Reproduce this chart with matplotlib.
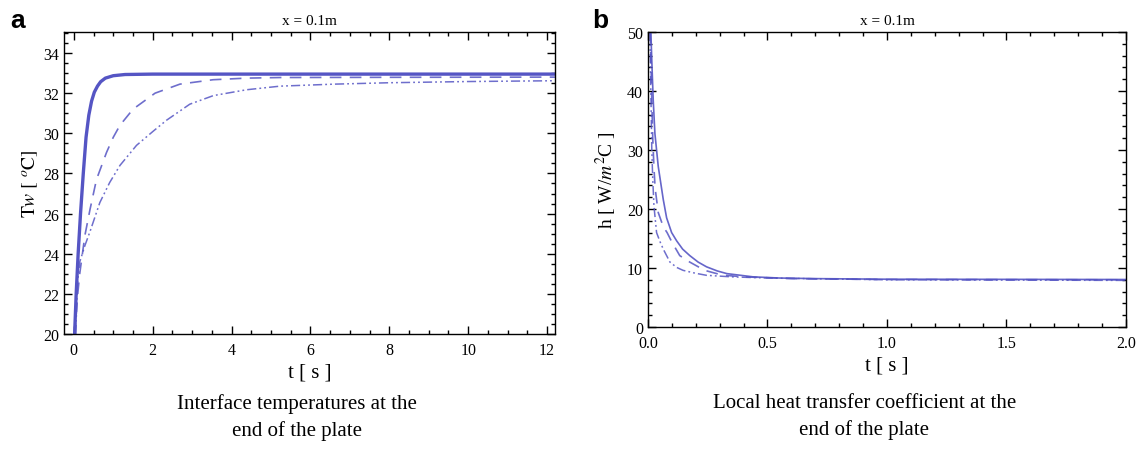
import matplotlib
matplotlib.use("Agg")
import matplotlib.pyplot as plt
from matplotlib.ticker import MultipleLocator, FormatStrFormatter

plt.rcParams["font.family"] = ["Liberation Serif", "DejaVu Serif"]
plt.rcParams["mathtext.fontset"] = "stix"

# panel a: interface temperature Tw [C] vs t [s]
ta_solid = [0.02, 0.06, 0.11, 0.17, 0.24, 0.31, 0.38, 0.45, 0.52, 0.6, 0.68,
            0.8, 1.0, 1.3, 2.0, 4.0, 8.0, 12.2]
tw_solid = [20.0, 22.0, 24.0, 26.0, 28.0, 29.8, 30.9, 31.6, 32.05, 32.35, 32.57,
            32.75, 32.87, 32.93, 32.95, 32.95, 32.95, 32.95]

ta_dash = [0.03, 0.08, 0.15, 0.28, 0.41, 0.575, 0.83, 1.0, 1.17, 1.5,
           2.06, 2.69, 3.53, 4.38, 5.23, 8.0, 12.2]
tw_dash = [20.0, 21.6, 23.0, 24.9, 26.2, 27.7, 29.05, 29.8, 30.4, 31.2,
           32.0, 32.45, 32.67, 32.75, 32.78, 32.79, 32.8]

ta_dot = [0.05, 0.09, 0.152, 0.28, 0.41, 0.66, 0.91, 1.17, 1.59, 2.01, 2.35,
          2.94, 3.54, 4.38, 5.23, 6.6, 8.0, 10.0, 12.2]
tw_dot = [20.0, 22.5, 23.6, 24.4, 25.1, 26.55, 27.55, 28.4, 29.4, 30.1, 30.65,
          31.45, 31.88, 32.17, 32.35, 32.45, 32.52, 32.58, 32.62]

# panel b: local heat transfer coefficient h vs t [s]
tb_solid = [0.012, 0.017, 0.022, 0.029, 0.043, 0.064, 0.078, 0.099, 0.12,
            0.145, 0.175, 0.21, 0.245, 0.29, 0.33, 0.44, 0.55, 0.7, 1.0, 2.0]
h_solid = [50.0, 44.0, 38.4, 32.8, 27.2, 21.6, 18.5, 16.0, 14.6,
           13.2, 12.1, 11.0, 10.2, 9.5, 9.05, 8.5, 8.3, 8.2, 8.1, 8.05]

tb_dash = [0.01, 0.015, 0.02, 0.025, 0.03, 0.043, 0.064, 0.08, 0.1, 0.133,
           0.175, 0.2375, 0.31, 0.4, 0.6, 1.0, 2.0]
h_dash = [50.0, 40.0, 32.0, 27.0, 23.5, 19.4, 17.0, 16.0, 14.4, 12.1,
          11.0, 9.6, 8.8, 8.5, 8.2, 8.05, 8.0]

tb_dot = [0.008, 0.012, 0.016, 0.02, 0.025, 0.036, 0.05, 0.064, 0.092, 0.12,
          0.147, 0.2, 0.245, 0.35, 0.5, 1.0, 2.0]
h_dot = [50.0, 40.0, 30.0, 25.0, 20.5, 16.0, 14.5, 13.2, 11.0, 10.1,
         9.6, 9.1, 8.76, 8.5, 8.3, 8.0, 7.9]

col = "#5555c4"
dashdotdot = (0, (6, 2, 1.2, 2, 1.2, 2))

fig = plt.figure(figsize=(11.36, 4.56), dpi=100)
ax1 = fig.add_axes([0.0563, 0.2654, 0.4322, 0.6623])
ax2 = fig.add_axes([0.5704, 0.2807, 0.4208, 0.6469])

ax1.plot(ta_solid, tw_solid, color=col, lw=2.4)
ax1.plot(ta_dash, tw_dash, color=col, lw=1.2, alpha=0.85, dashes=(7, 5))
ax1.plot(ta_dot, tw_dot, color=col, lw=1.1, alpha=0.85, linestyle=dashdotdot)
ax1.set_xlim(-0.25, 12.2)
ax1.set_ylim(20, 35.05)
ax1.xaxis.set_major_locator(MultipleLocator(2))
ax1.xaxis.set_minor_locator(MultipleLocator(0.5))
ax1.yaxis.set_major_locator(MultipleLocator(2))
ax1.yaxis.set_minor_locator(MultipleLocator(0.5))
ax1.set_ylabel(r"$\mathrm{T}w\ [\ ^o\mathrm{C}]$", fontsize=14, labelpad=2)

ax2.plot(tb_solid, h_solid, color=col, lw=1.2, alpha=0.9)
ax2.plot(tb_dash, h_dash, color=col, lw=1.2, alpha=0.85, dashes=(7, 5))
ax2.plot(tb_dot, h_dot, color=col, lw=1.1, alpha=0.85, linestyle=dashdotdot)
ax2.set_xlim(0, 2.0)
ax2.set_ylim(0, 50)
ax2.xaxis.set_major_locator(MultipleLocator(0.5))
ax2.xaxis.set_minor_locator(MultipleLocator(0.1))
ax2.yaxis.set_major_locator(MultipleLocator(10))
ax2.yaxis.set_minor_locator(MultipleLocator(2))
ax2.xaxis.set_major_formatter(FormatStrFormatter("%.1f"))
ax2.set_ylabel(r"h [ W/$m^2$C ]", fontsize=14, labelpad=6)

for ax in (ax1, ax2):
    ax.set_title("x = 0.1m", fontsize=11, pad=6)
    ax.set_xlabel("t [ s ]", fontsize=15, labelpad=3)
    ax.tick_params(which="both", direction="in", top=True, right=True,
                   labelsize=11.5, width=1.0)
    ax.tick_params(axis="x", which="major", pad=6)
    ax.tick_params(which="major", length=6)
    ax.tick_params(which="minor", length=3)
    for sp in ax.spines.values():
        sp.set_linewidth(1.0)

fig.text(0.2615, 0.085, "Interface temperatures at the\nend of the plate",
         ha="center", va="center", fontsize=15, linespacing=1.45)
fig.text(0.761, 0.085, "Local heat transfer coefficient at the\nend of the plate",
         ha="center", va="center", fontsize=15, linespacing=1.45)
fig.text(0.009, 0.955, "a", fontsize=19, fontweight="bold",
         family="Liberation Sans", va="center")
fig.text(0.521, 0.955, "b", fontsize=19, fontweight="bold",
         family="Liberation Sans", va="center")

fig.savefig("out.png", dpi=100)
